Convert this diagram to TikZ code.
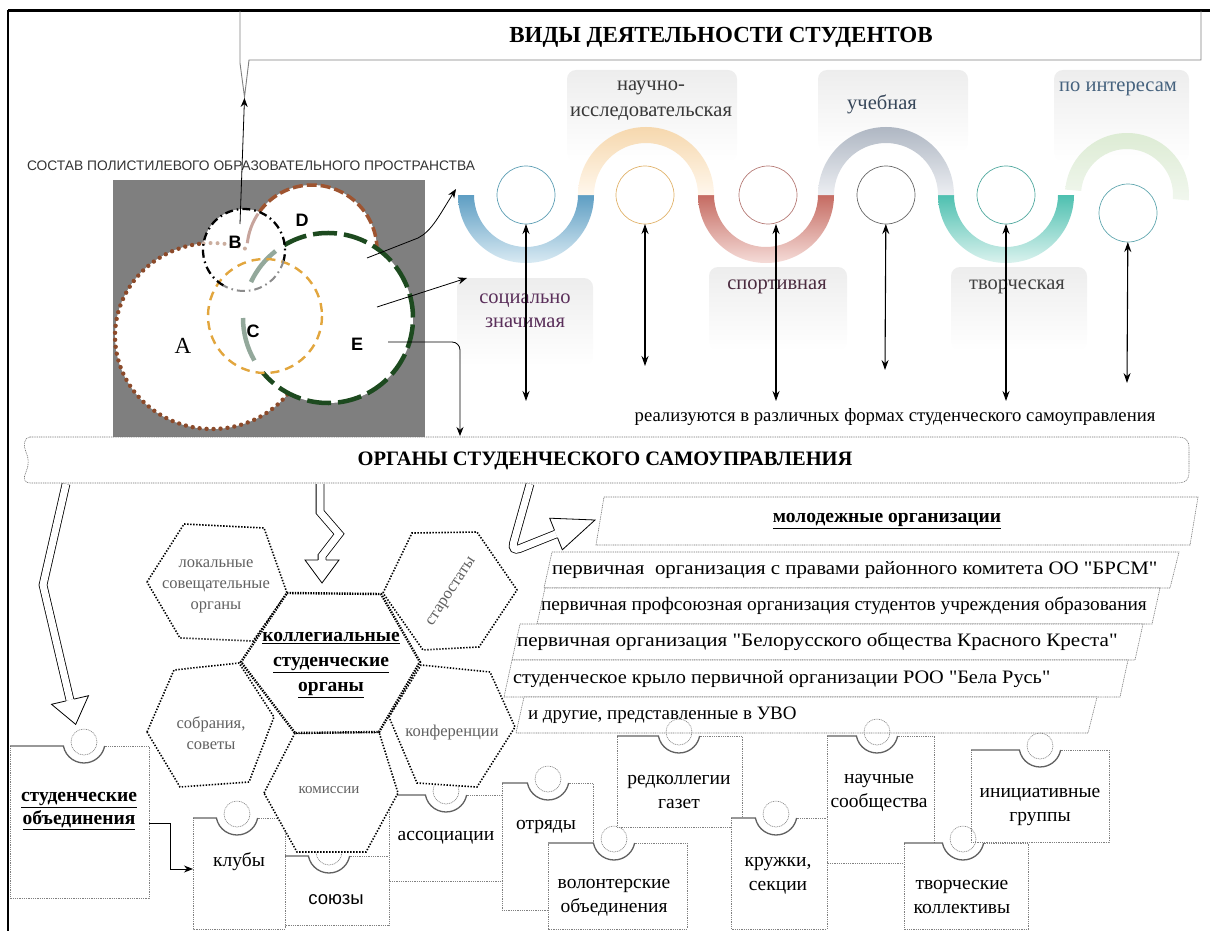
\documentclass[tikz,border=0pt]{standalone}
\usepackage{fontspec}
\setmainfont{Liberation Serif}
\newfontfamily\arialf{Liberation Sans}
\newfontfamily\rowf{Liberation Serif}
\usetikzlibrary{arrows.meta}
\definecolor{venngray}{HTML}{7F7F7F}
\definecolor{brownA}{HTML}{8C4A2A}
\definecolor{brownD}{HTML}{9E5430}
\definecolor{pinkD}{HTML}{C7A49C}
\definecolor{greenE}{HTML}{1D4A1F}
\definecolor{greenEf}{HTML}{93A89B}
\definecolor{orangeC}{HTML}{E2A63E}
\definecolor{blueT}{HTML}{5E9EC3}
\definecolor{blueB}{HTML}{D9EAF3}
\definecolor{orT}{HTML}{F6D8AE}
\definecolor{orB}{HTML}{FFF7EC}
\definecolor{redT}{HTML}{C56B62}
\definecolor{redB}{HTML}{F5DCD8}
\definecolor{grT}{HTML}{AFB7C3}
\definecolor{grB}{HTML}{ECEEF2}
\definecolor{tealT}{HTML}{4EC0B0}
\definecolor{tealB}{HTML}{DAF2EE}
\definecolor{gnT}{HTML}{DCEBD3}
\definecolor{gnB}{HTML}{F1F7EE}
\definecolor{cA}{HTML}{5B9DB3}
\definecolor{cB}{HTML}{E0B26A}
\definecolor{cC}{HTML}{B57A75}
\definecolor{cD}{HTML}{666666}
\definecolor{cE}{HTML}{4FA89E}
\definecolor{cF}{HTML}{5FA6AE}
\newcommand\pzbox[5]{%
  \fill[white] (#1,#2) rectangle (#3,#4);
  \draw[pdot] (#5+20.6,#2) -- (#3,#2) -- (#3,#4) -- (#1,#4) -- (#1,#2);
  \draw[psolid] (#1,#2) -- (#5-20.6,#2) arc[start angle=169,end angle=11,radius=21];
  \draw[pdot] (#5,#2-4) circle[radius=13];
}
\begin{document}
\begin{tikzpicture}[x=1pt,y=-1pt,
  every node/.style={inner sep=0pt, outer sep=0pt},
  sarrow/.style={-{Stealth[length=9pt,width=7pt]}, line width=0.8pt},
  varrow/.style={{Stealth[length=10pt,width=7pt]}-{Stealth[length=10pt,width=7pt]}, line width=1.1pt},
  wcirc/.style={circle, draw, line width=0.7pt, minimum size=58pt},
  lbox/.style={rounded corners=9pt, top color=black!7, bottom color=white, anchor=north west},
  wlab/.style={font=\fontsize{20.5}{26}\selectfont, align=center},
  hollow/.style={draw=black, line width=0.8pt, double=white, double distance=7pt},
  hhead/.style={draw=black, line width=0.8pt, fill=white, line join=miter},
  hexdot/.style={draw=black, fill=white, line width=1.6pt, dash pattern=on 1.4pt off 1.6pt},
  hexbold/.style={draw=black, fill=white, line width=2.4pt, dash pattern=on 1.4pt off 1.2pt},
  hext/.style={font=\fontsize{16.5}{21}\selectfont, text=black!62, align=center},
  rowline/.style={draw=black!55, line width=0.6pt, dash pattern=on 1pt off 0.8pt, fill=white},
  rowt/.style={font=\rowf\fontsize{19}{22}\selectfont, anchor=west},
  pdot/.style={draw=black!50, line width=0.6pt, dash pattern=on 1pt off 0.8pt},
  psolid/.style={draw=black!62, line width=1.3pt},
  ptx/.style={font=\fontsize{19.5}{24}\selectfont, align=center},
]
\useasboundingbox (0,0) rectangle (1210,931);
% frame
\draw[line width=2.4pt] (1210,10.5) -- (8,10.5);
\draw[line width=1.4pt] (8,10) -- (8,931);
% title callout
\draw[draw=black!50, line width=0.9pt] (240,11) -- (240,63) -- (244.5,97) -- (249,60) -- (1201,60) -- (1201,11);
\node[font=\bfseries\fontsize{23}{27}\selectfont] (title) at (721,37) {ВИДЫ ДЕЯТЕЛЬНОСТИ СТУДЕНТОВ};
\coordinate (titletip) at (244.5,98);
\node[font=\arialf\fontsize{13.8}{16}\selectfont, text=black!80] (sostav) at (251,166) {СОСТАВ ПОЛИСТИЛЕВОГО ОБРАЗОВАТЕЛЬНОГО ПРОСТРАНСТВА};

% ---------- Venn ----------
\fill[venngray] (113,180) rectangle (425,437);
\fill[white] (212,336) ellipse [x radius=97, y radius=93];
\fill[white] (312,250) circle[radius=65];
\fill[white] (328,318) circle[radius=85];
\fill[white] (244,250) circle[radius=41];
\fill[white] (265,316) circle[radius=57];
% A
\draw[brownA, line width=4.4pt, line cap=round, dash pattern=on 0pt off 7pt] (212,336) ++(39:97 and 93) arc[start angle=39, end angle=265, x radius=97, y radius=93];
\draw[brownA!45, line width=4pt, line cap=round, dash pattern=on 0pt off 7pt] (212,336) ++(265:97 and 93) arc[start angle=265, end angle=292, x radius=97, y radius=93];
% D
\draw[brownD, line width=3.5pt, dash pattern=on 10pt off 4pt] (312,250) ++(216:65) arc[start angle=216, end angle=359, radius=65];
\draw[pinkD, line width=3pt] (312,250) ++(186:65) arc[start angle=186, end angle=214, radius=65];
% E
\draw[greenEf, line width=4.5pt] (328,318) ++(150:85) arc[start angle=150, end angle=180, radius=85];
\draw[greenEf, line width=4.5pt] (328,318) ++(205:85) arc[start angle=205, end angle=232, radius=85];
\draw[greenE, line width=4.5pt, dash pattern=on 24pt off 7pt] (328,318) ++(239:85) arc[start angle=239, end angle=500, radius=85];
% C
\draw[orangeC, line width=2.4pt, dash pattern=on 9pt off 6pt] (265,316) circle[radius=57];
% B
\draw[black, line width=2.3pt, dash pattern=on 8pt off 4pt on 1.6pt off 4pt] (244,250) ++(120:41) arc[start angle=120, end angle=375, radius=41];
\draw[black!45, line width=2pt, dash pattern=on 8pt off 4pt on 1.6pt off 4pt] (244,250) ++(15:41) arc[start angle=15, end angle=120, radius=41];
\node[font=\fontsize{23}{25}\selectfont] (lA) at (183,346) {A};
\node[font=\arialf\bfseries\fontsize{18}{20}\selectfont] (lB) at (235,242) {B};
\node[font=\arialf\bfseries\fontsize{18}{20}\selectfont] (lC) at (253,331) {C};
\node[font=\arialf\bfseries\fontsize{18}{20}\selectfont] (lD) at (302,220) {D};
\node[font=\arialf\bfseries\fontsize{18}{20}\selectfont] (lE) at (357,344) {E};

% ---------- wave label boxes ----------
\node[lbox, minimum width=170pt, minimum height=92pt] (bx1) at (567,70) {};
\node[lbox, minimum width=150pt, minimum height=82pt] (bx2) at (818,70) {};
\node[lbox, minimum width=135pt, minimum height=92pt] (bx3) at (1054,70) {};
\node[lbox, minimum width=136pt, minimum height=88pt] (bx4) at (457,278) {};
\node[lbox, minimum width=138pt, minimum height=84pt] (bx5) at (709,267) {};
\node[lbox, minimum width=136pt, minimum height=84pt] (bx6) at (951,267) {};

% ---------- wave ----------
\foreach \cx/\ct/\cb in {526/blueT/blueB, 766/redT/redB, 1006/tealT/tealB}{
  \shade[top color=\ct, bottom color=\cb] (\cx-68,195) arc[start angle=180,end angle=0,radius=68] -- (\cx+52,195) arc[start angle=0,end angle=180,radius=52] -- cycle;
}
\foreach \cx/\ct/\cb in {646/orT/orB, 886/grT/grB}{
  \shade[top color=\ct, bottom color=\cb] (\cx-68,195) arc[start angle=180,end angle=360,radius=68] -- (\cx+52,195) arc[start angle=360,end angle=180,radius=52] -- cycle;
}
\begin{scope}[rotate around={-5:(1127,195)}]
  \shade[top color=gnT, bottom color=gnB] (1127-62,195) arc[start angle=180,end angle=360,radius=62] -- (1127+46,195) arc[start angle=360,end angle=180,radius=46] -- cycle;
\end{scope}

\node[wlab, text=black!78] (t1) at (651,101) {научно-\\исследовательская};
\node[wlab, text={rgb,255:red,55;green,71;blue,90}] (t2) at (882,104) {учебная};
\node[wlab, text={rgb,255:red,69;green,98;blue,126}] (t3) at (1118,89) {по интересам};
\node[wlab, text={rgb,255:red,90;green,47;blue,90}, font=\fontsize{20.5}{24}\selectfont] (t4) at (525,311) {социально\\значимая};
\node[wlab, text={rgb,255:red,75;green,43;blue,63}] (t5) at (777,287) {спортивная};
\node[wlab, text=black!75] (t6) at (1017,287) {творческая};

\node[wcirc, draw=cA] (c1) at (526,195) {};
\node[wcirc, draw=cB] (c2) at (645,195) {};
\node[wcirc, draw=cC] (c3) at (768,195) {};
\node[wcirc, draw=cD] (c4) at (886,195) {};
\node[wcirc, draw=cE] (c5) at (1006,195) {};
\node[wcirc, draw=cF] (c6) at (1128,213) {};
\coordinate (e1) at (526,401);
\coordinate (e2) at (645,366);
\coordinate (e3) at (776,401);
\coordinate (e4) at (885,370);
\coordinate (e5) at (1006,401);
\coordinate (e6) at (1127,383);
\draw[varrow] (c1) -- (e1);
\draw[varrow] (c2) -- (e2);
\draw[varrow] (c3.south -| e3) -- (e3);
\draw[varrow] (c4) -- (e4);
\draw[varrow] (c5) -- (e5);
\draw[varrow] (c6) -- (e6);
\node[font=\fontsize{18.7}{21}\selectfont] (real) at (895,417) {реализуются в различных формах студенческого самоуправления};

% Venn arrows
\coordinate (pB) at (240,224);
\draw[sarrow] (pB) -- (titletip);
\coordinate (pD) at (367,258);
\coordinate (waveIn) at (456,189);
\draw[sarrow] (pD) -- (418,238) .. controls (432,231) and (440,214) .. (waveIn);
\coordinate (pE1) at (377,307);
\draw[sarrow] (pE1) -- ([xshift=10pt]bx4.north west);
\coordinate (pE2) at (388,342);
\coordinate (bannerE) at (460,436);
\draw[sarrow, rounded corners=8pt] (pE2) -- (460,342) -- (bannerE);

% ---------- banner ----------
\draw[rowline] (30,437) -- (1176,437) .. controls (1186,437) and (1189,440) .. (1189,448) -- (1189,472) .. controls (1189,480) and (1186,483) .. (1176,483) -- (30,483) .. controls (24,483) and (23,478) .. (26,472) .. controls (29,466) and (29,458) .. (26,452) .. controls (23,446) and (24,437) .. (30,437) -- cycle;
\node[font=\bfseries\fontsize{20.5}{24}\selectfont] (organy) at (605,461) {ОРГАНЫ СТУДЕНЧЕСКОГО САМОУПРАВЛЕНИЯ};

% ---------- hollow arrows ----------
\coordinate (L0) at (66,484);
\coordinate (M0) at (320,484);
\coordinate (R0) at (530,484);
\draw[hollow] (L0) -- (43,585) -- (70,700);
\draw[hhead] (66.1,700.9) -- (51.5,704.3) -- (75.7,724.4) -- (88.5,695.7) -- (73.9,699.1);
\draw[hollow] (M0) -- (320,512) -- (339,534) -- (322,556) -- (322,560);
\draw[hhead] (318,560) -- (305,560) -- (322,583) -- (339,560) -- (326,560);
\draw[hollow, rounded corners=9pt] (R0) -- (511,552) -- (556,534);
\draw[hhead] (554.5,530.3) -- (549.7,518.2) -- (595,520) -- (562.3,549.8) -- (557.5,537.7);

% ---------- youth organisations ----------
\draw[rowline] (604,497) -- (1198,497) -- (1190,545) -- (596,545) -- cycle;
\node[font=\bfseries\fontsize{19.5}{22}\selectfont] (molod) at (887,521) {\underline{молодежные организации}};
\draw[rowline] (552,552) -- (1179,552) -- (1170,588) -- (544,588) -- cycle;
\node[rowt, xscale=1.1] (r1) at (552,570) {первичная\ \ организация с правами районного комитета ОО "БРСМ"};
\draw[rowline] (545,588) -- (1160,588) -- (1152,624) -- (537,624) -- cycle;
\node[rowt, xscale=1.02] (r2) at (541,606) {первичная профсоюзная организация студентов учреждения образования};
\draw[rowline] (520,624) -- (1143,624) -- (1135,660) -- (512,660) -- cycle;
\node[rowt, xscale=1.11] (r3) at (517,642) {первичная организация "Белорусского общества Красного Креста"};
\draw[rowline] (512,660) -- (1128,660) -- (1120,697) -- (504,697) -- cycle;
\node[rowt, xscale=1.07] (r4) at (513,679) {студенческое крыло первичной организации РОО "Бела Русь"};
\draw[rowline] (524,697) -- (1097,697) -- (1088,733) -- (516,733) -- cycle;
\node[rowt] (r5) at (528,715) {и другие, представленные в УВО};

% ---------- puzzle boxes ----------
\pzbox{10}{746}{149}{898}{84}
\node[ptx, font=\bfseries\fontsize{19.5}{23}\selectfont] (sobj) at (79,811) {\underline{студенческие}\\\underline{объединения}};
\pzbox{193}{818}{285}{929}{237}
\node[ptx] (kluby) at (239,862) {клубы};
\pzbox{285}{856}{389}{925}{329}
\node[ptx, font=\arialf\fontsize{18.5}{22}\selectfont] (soyuzy) at (336,900) {союзы};
\pzbox{389}{795}{502}{881}{446}
\node[ptx] (assoc) at (446,838) {ассоциации};
\pzbox{502}{783}{593}{910}{548}
\node[ptx] (otr) at (546,827) {отряды};
\pzbox{548}{843}{687}{929}{614}
\node[ptx] (vol) at (614,898) {волонтерские\\объединения};
\pzbox{617}{736}{742}{827}{679}
\node[ptx] (red) at (679,792) {редколлегии\\газет};
\pzbox{731}{818}{827}{929}{776}
\node[ptx] (kruzh) at (778,876) {кружки,\\секции};
\pzbox{827}{736}{934}{863}{877}
\node[ptx] (nauch) at (879,793) {научные\\сообщества};
\pzbox{971}{750}{1109}{842}{1040}
\node[ptx] (init) at (1040,807) {инициативные\\группы};
\pzbox{904}{843}{1028}{929}{963}
\node[ptx] (tvor) at (962,897) {творческие\\коллективы};
\coordinate (sobjR) at (149,823);
\coordinate (klubyL) at (193,869);
\draw[sarrow, line width=1pt] (sobjR) -- ++(21,0) |- (klubyL);

% ---------- hexagons ----------
\draw[hexdot] (147,582) -- (184,524) -- (264,528) -- (287,593) -- (253,641) -- (180,638) -- cycle;
\node[hext] (hloc) at (216,586) {локальные\\совещательные\\органы};
\draw[hexdot] (383,593) -- (412,533) -- (477,532) -- (517,590) -- (479,647) -- (423,650) -- cycle;
\node[hext, rotate=57] (hstar) at (452,592) {старостаты};
\draw[hexdot] (147,732) -- (174,670) -- (239,663) -- (274,717) -- (249,782) -- (180,787) -- cycle;
\node[hext] (hsobr) at (211,733) {собрания,\\советы};
\draw[hexdot] (389,717) -- (421,665) -- (490,672) -- (515,727) -- (477,787) -- (417,783) -- cycle;
\node[hext] (hkonf) at (452,733) {конференции};
\draw[hexdot] (264,793) -- (295,733) -- (379,732) -- (398,793) -- (366,852) -- (297,852) -- cycle;
\node[hext, font=\fontsize{15}{18}\selectfont] (hkom) at (329,790) {комиссии};
\draw[hexbold] (287,593) -- (381,594) -- (420,662) -- (379,732) -- (295,733) -- (241,662) -- cycle;
\node[font=\bfseries\fontsize{19.5}{25}\selectfont, align=center] (hcent) at (331,665) {\underline{коллегиальные}\\\underline{студенческие}\\\underline{органы}};
\end{tikzpicture}
\end{document}
